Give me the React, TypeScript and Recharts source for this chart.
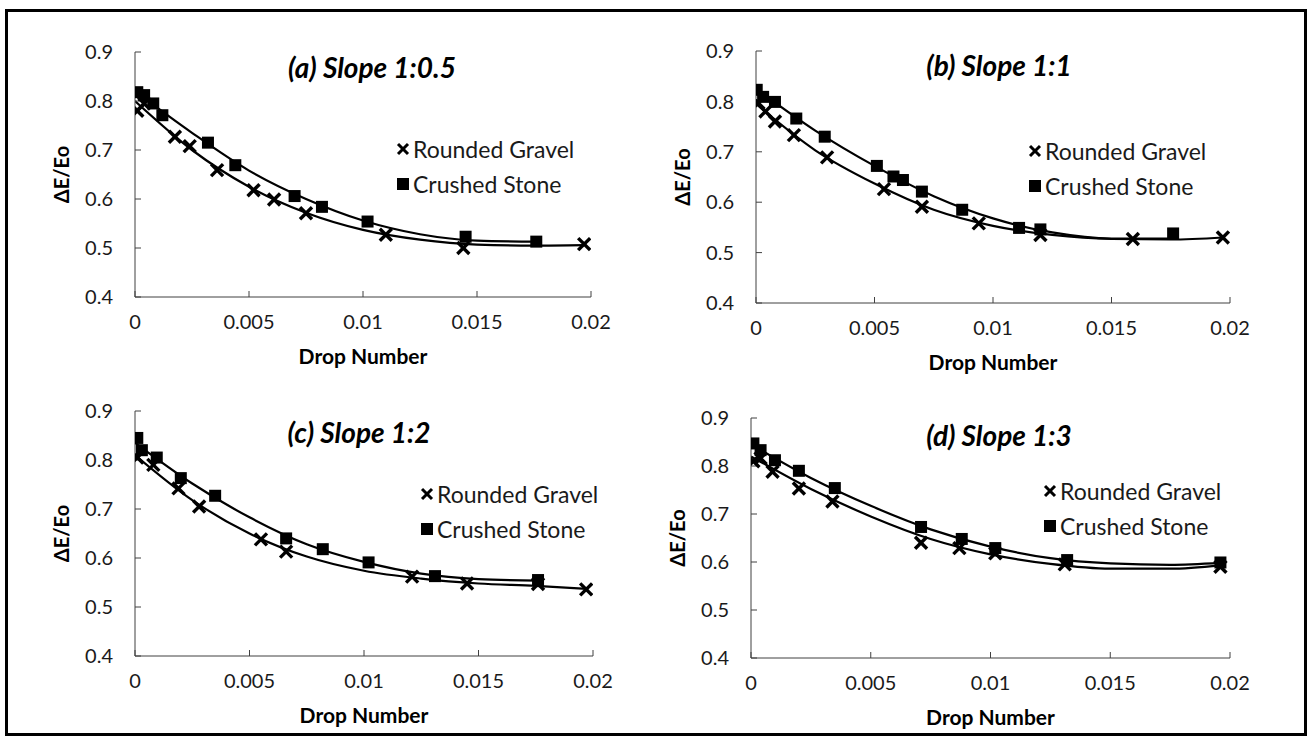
import React from 'react';
import { ComposedChart, Line, Scatter, XAxis, YAxis, Legend } from 'recharts';

const xTicks = [0, 0.005, 0.01, 0.015, 0.02];
const yTicks = [0.4, 0.5, 0.6, 0.7, 0.8, 0.9];
const seriesNames = ['Rounded Gravel', 'Crushed Stone'];
const titles = ['(a) Slope 1:0.5', '(b) Slope 1:1', '(c) Slope 1:2', '(d) Slope 1:3'];

// Panel (a)
const gravelAx = [0.0001, 0.0004, 0.00175, 0.0024, 0.0036, 0.0052, 0.0061, 0.0075, 0.011, 0.0144, 0.0197];
const gravelAy = [0.78, 0.795, 0.727, 0.708, 0.659, 0.618, 0.599, 0.571, 0.527, 0.5, 0.508];
const stoneAx = [0.0001, 0.0004, 0.0008, 0.0012, 0.0032, 0.0044, 0.007, 0.0082, 0.0102, 0.0145, 0.0176];
const stoneAy = [0.818, 0.812, 0.795, 0.771, 0.715, 0.669, 0.606, 0.584, 0.554, 0.523, 0.513];
const trendGravelAx = [0, 0.0025, 0.005, 0.0075, 0.01, 0.0125, 0.015, 0.0175, 0.0197];
const trendGravelAy = [0.8, 0.7, 0.625, 0.572, 0.537, 0.517, 0.507, 0.505, 0.506];
const trendStoneAx = [0, 0.0025, 0.005, 0.0075, 0.01, 0.0125, 0.015, 0.0176];
const trendStoneAy = [0.82, 0.735, 0.658, 0.6, 0.556, 0.528, 0.515, 0.513];

// Panel (b)
const gravelBx = [0.0001, 0.0004, 0.0008, 0.0016, 0.003, 0.0054, 0.007, 0.0094, 0.012, 0.0159, 0.0197];
const gravelBy = [0.797, 0.78, 0.76, 0.733, 0.689, 0.626, 0.591, 0.558, 0.535, 0.527, 0.53];
const stoneBx = [0.00003, 0.0003, 0.0008, 0.0017, 0.0029, 0.0051, 0.0058, 0.0062, 0.007, 0.0087, 0.0111, 0.012, 0.0176];
const stoneBy = [0.823, 0.809, 0.799, 0.766, 0.73, 0.672, 0.651, 0.644, 0.621, 0.585, 0.549, 0.546, 0.538];
const trendGravelBx = [0, 0.0025, 0.005, 0.0075, 0.01, 0.0125, 0.015, 0.0175, 0.0197];
const trendGravelBy = [0.795, 0.703, 0.637, 0.585, 0.553, 0.535, 0.527, 0.526, 0.53];
const trendStoneBx = [0, 0.0025, 0.005, 0.0075, 0.01, 0.0125, 0.015, 0.0176];
const trendStoneBy = [0.825, 0.742, 0.672, 0.612, 0.568, 0.54, 0.528, 0.528];

// Panel (c)
const gravelCx = [0.0001, 0.0008, 0.0019, 0.0028, 0.0055, 0.0066, 0.0121, 0.0145, 0.0176, 0.0197];
const gravelCy = [0.805, 0.79, 0.742, 0.705, 0.638, 0.613, 0.562, 0.548, 0.547, 0.536];
const stoneCx = [0.0001, 0.0003, 0.00095, 0.002, 0.0035, 0.0066, 0.0082, 0.0102, 0.0131, 0.0176];
const stoneCy = [0.845, 0.82, 0.805, 0.763, 0.727, 0.64, 0.618, 0.591, 0.563, 0.555];
const trendGravelCx = [0, 0.0025, 0.005, 0.0075, 0.01, 0.0125, 0.015, 0.0175, 0.0197];
const trendGravelCy = [0.81, 0.718, 0.65, 0.603, 0.574, 0.558, 0.548, 0.543, 0.537];
const trendStoneCx = [0, 0.0025, 0.005, 0.0075, 0.01, 0.0125, 0.015, 0.0176];
const trendStoneCy = [0.835, 0.752, 0.683, 0.628, 0.592, 0.568, 0.557, 0.554];

// Panel (d)
const gravelDx = [0.0001, 0.0004, 0.0009, 0.002, 0.0034, 0.0071, 0.0087, 0.0102, 0.0131, 0.0196];
const gravelDy = [0.81, 0.816, 0.788, 0.753, 0.726, 0.64, 0.629, 0.618, 0.595, 0.59];
const stoneDx = [0.0001, 0.0004, 0.001, 0.002, 0.0035, 0.0071, 0.0088, 0.0102, 0.0132, 0.0196];
const stoneDy = [0.847, 0.833, 0.812, 0.79, 0.754, 0.673, 0.648, 0.629, 0.604, 0.599];
const trendGravelDx = [0, 0.0025, 0.005, 0.0075, 0.01, 0.0125, 0.015, 0.0175, 0.0196];
const trendGravelDy = [0.82, 0.752, 0.695, 0.648, 0.616, 0.596, 0.586, 0.586, 0.593];
const trendStoneDx = [0, 0.0025, 0.005, 0.0075, 0.01, 0.0125, 0.015, 0.0175, 0.0196];
const trendStoneDy = [0.845, 0.775, 0.717, 0.668, 0.632, 0.608, 0.597, 0.594, 0.598];

const zip = (xs: number[], ys: number[]) => xs.map((x, i) => ({ x, y: ys[i] }));

const FONT = 'Lato, "Open Sans", sans-serif';
const AXIS_COLOR = '#404040';
const TEXT_COLOR = '#1a1a1a';

const CrossShape = (props: any) => {
  const { cx, cy } = props;
  const s = 6;
  return (
    <g stroke="#000" strokeWidth={3.4}>
      <line x1={cx - s} y1={cy - s} x2={cx + s} y2={cy + s} />
      <line x1={cx - s} y1={cy + s} x2={cx + s} y2={cy - s} />
    </g>
  );
};

const SquareShape = (props: any) => {
  const { cx, cy } = props;
  return <rect x={cx - 6} y={cy - 6} width={12} height={12} fill="#000" />;
};

const LegendContent = () => (
  <div style={{ fontFamily: FONT, fontSize: 23, color: TEXT_COLOR }}>
    {seriesNames.map((name, i) => (
      <div key={name} style={{ display: 'flex', alignItems: 'center', height: 35, whiteSpace: 'nowrap' }}>
        <svg width={14} height={14} style={{ marginRight: 3 }}>
          {i === 0 ? (
            <g stroke="#000" strokeWidth={3}>
              <line x1={2} y1={2} x2={12} y2={12} />
              <line x1={2} y1={12} x2={12} y2={2} />
            </g>
          ) : (
            <rect x={1} y={1} width={12} height={12} fill="#000" />
          )}
        </svg>
        <span>{name}</span>
      </div>
    ))}
  </div>
);

type PanelProps = {
  plot: { l: number; t: number; r: number; b: number };
  title: string;
  titleCx: number;
  titleCy: number;
  legendX: number;
  legendY: number;
  gravel: { x: number; y: number }[];
  stone: { x: number; y: number }[];
  trendGravel: { x: number; y: number }[];
  trendStone: { x: number; y: number }[];
};

const ML = 100;
const MT = 40;
const MR = 40;
const XH = 80;

const Panel = ({ plot, title, titleCx, titleCy, legendX, legendY, gravel, stone, trendGravel, trendStone }: PanelProps) => {
  const left = plot.l - ML;
  const top = plot.t - MT;
  const width = plot.r - plot.l + ML + MR;
  const height = plot.b - plot.t + MT + XH;
  return (
    <>
      <div style={{ position: 'absolute', left, top, width, height }}>
        <ComposedChart
          width={width}
          height={height}
          margin={{ top: MT, right: MR, left: 0, bottom: 0 }}
        >
          <XAxis
            dataKey="x"
            type="number"
            domain={[0, 0.02]}
            ticks={xTicks}
            tickFormatter={(v: number) => String(v)}
            height={XH}
            stroke={AXIS_COLOR}
            tickSize={-6}
            tickMargin={24}
            tick={{ fill: TEXT_COLOR, fontSize: 20, fontFamily: FONT }}
            allowDataOverflow
            label={{
              value: 'Drop Number',
              position: 'insideBottom',
              offset: 13,
              style: { fontFamily: FONT, fontWeight: 700, fontSize: 21, fill: '#000' },
            }}
          />
          <YAxis
            dataKey="y"
            type="number"
            domain={[0.4, 0.9]}
            ticks={yTicks}
            tickFormatter={(v: number) => v.toFixed(1)}
            width={ML}
            stroke={AXIS_COLOR}
            tickSize={-6}
            tickMargin={28}
            tick={{ fill: TEXT_COLOR, fontSize: 20, fontFamily: FONT }}
            allowDataOverflow
            label={{
              value: 'ΔE/Eo',
              angle: -90,
              position: 'insideLeft',
              offset: 27,
              style: { fontFamily: FONT, fontWeight: 700, fontSize: 20, fill: '#000', textAnchor: 'middle' },
            }}
          />
          <Legend
            content={<LegendContent />}
            layout="vertical"
            align="center"
            verticalAlign="middle"
            wrapperStyle={{ left: legendX - left, top: legendY - top, width: 'auto', height: 'auto' }}
          />
          <Line
            data={trendGravel}
            dataKey="y"
            type="monotone"
            dot={false}
            stroke="#000"
            strokeWidth={2.2}
            isAnimationActive={false}
            legendType="none"
          />
          <Line
            data={trendStone}
            dataKey="y"
            type="monotone"
            dot={false}
            stroke="#000"
            strokeWidth={2.2}
            isAnimationActive={false}
            legendType="none"
          />
          <Scatter name={seriesNames[0]} data={gravel} dataKey="y" shape={<CrossShape />} isAnimationActive={false} />
          <Scatter name={seriesNames[1]} data={stone} dataKey="y" shape={<SquareShape />} isAnimationActive={false} />
        </ComposedChart>
      </div>
      <div
        style={{
          position: 'absolute',
          left: titleCx - 150,
          top: titleCy - 18,
          width: 300,
          height: 36,
          lineHeight: '36px',
          textAlign: 'center',
          fontFamily: FONT,
          fontWeight: 700,
          fontStyle: 'italic',
          fontSize: 28,
          color: '#000',
          whiteSpace: 'nowrap',
        }}
      >
        {title}
      </div>
    </>
  );
};

export default function App() {
  return (
    <div style={{ position: 'absolute', left: 0, top: 0, width: 1314, height: 737, background: '#fff', overflow: 'hidden' }}>
      <div
        style={{
          position: 'absolute',
          left: 5,
          top: 9,
          width: 1302,
          height: 727,
          boxSizing: 'border-box',
          border: '3px solid #000',
        }}
      />
      <Panel
        plot={{ l: 135, t: 52, r: 591, b: 297 }}
        title={titles[0]}
        titleCx={372}
        titleCy={67}
        legendX={396}
        legendY={131}
        gravel={zip(gravelAx, gravelAy)}
        stone={zip(stoneAx, stoneAy)}
        trendGravel={zip(trendGravelAx, trendGravelAy)}
        trendStone={zip(trendStoneAx, trendStoneAy)}
      />
      <Panel
        plot={{ l: 756, t: 51, r: 1230, b: 303 }}
        title={titles[1]}
        titleCx={999}
        titleCy={65}
        legendX={1028}
        legendY={133}
        gravel={zip(gravelBx, gravelBy)}
        stone={zip(stoneBx, stoneBy)}
        trendGravel={zip(trendGravelBx, trendGravelBy)}
        trendStone={zip(trendStoneBx, trendStoneBy)}
      />
      <Panel
        plot={{ l: 135, t: 411, r: 593, b: 656 }}
        title={titles[2]}
        titleCx={359}
        titleCy={432}
        legendX={420}
        legendY={476}
        gravel={zip(gravelCx, gravelCy)}
        stone={zip(stoneCx, stoneCy)}
        trendGravel={zip(trendGravelCx, trendGravelCy)}
        trendStone={zip(trendStoneCx, trendStoneCy)}
      />
      <Panel
        plot={{ l: 751, t: 418, r: 1230, b: 658 }}
        title={titles[3]}
        titleCx={999}
        titleCy={435}
        legendX={1043}
        legendY={473}
        gravel={zip(gravelDx, gravelDy)}
        stone={zip(stoneDx, stoneDy)}
        trendGravel={zip(trendGravelDx, trendGravelDy)}
        trendStone={zip(trendStoneDx, trendStoneDy)}
      />
    </div>
  );
}
